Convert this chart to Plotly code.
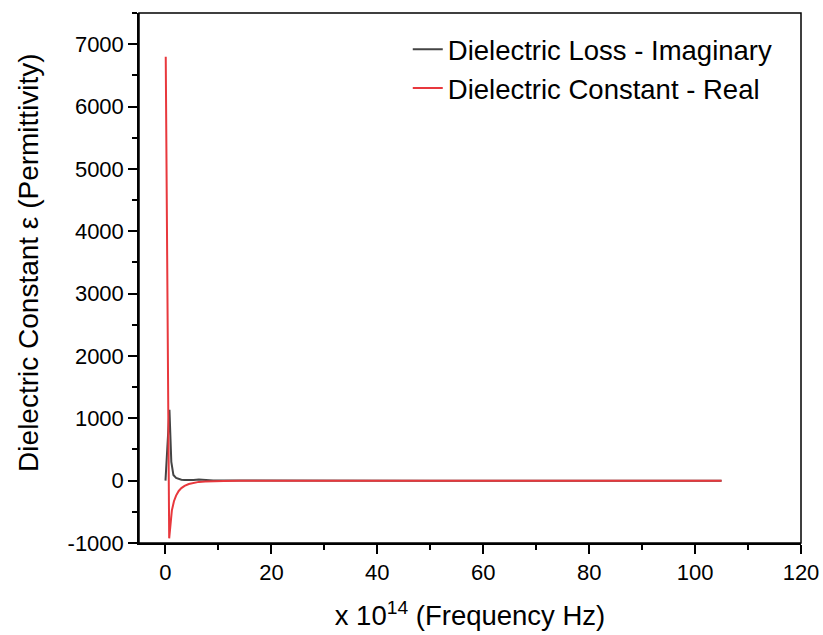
import plotly.graph_objects as go

# Frequency (x 10^14 Hz)
freq_real = [0.05, 0.7, 1.2, 1.6, 2.0, 2.5, 3.0, 3.6, 4.4, 5.3, 6.3, 7.5, 9.0, 11.0, 14.0, 18.0, 25.0, 35.0, 50.0, 65.0, 80.0, 95.0, 105.0]
eps_real = [6800, -925, -480, -330, -240, -165, -120, -85, -55, -35, -20, -12, -7, -4, -2, -1, 0, 0, 0, 0, 0, 0, 0]

freq_imag = [0.0, 0.75, 1.1, 1.5, 2.0, 2.5, 3.0, 3.6, 4.4, 5.3, 6.3, 7.5, 9.0, 11.0, 14.0, 18.0, 25.0, 35.0, 50.0, 65.0, 80.0, 95.0, 105.0]
eps_imag = [0, 1135, 300, 90, 45, 25, 15, 10, 8, 12, 18, 10, 4, 2, 1, 0, 0, 0, 0, 0, 0, 0, 0]

x_ticks = [0, 20, 40, 60, 80, 100, 120]
y_ticks = [-1000, 0, 1000, 2000, 3000, 4000, 5000, 6000, 7000]
y_tick_labels = ["-1000", "0", "1000", "2000", "3000", "4000", "5000", "6000", "7000"]

x_title = "x 10<sup>14</sup> (Frequency Hz)"
y_title = "Dielectric Constant ε (Permittivity)"

font_family = "Liberation Sans, Arial, sans-serif"

fig = go.Figure()
fig.add_trace(go.Scatter(x=freq_imag, y=eps_imag, mode="lines",
                         name="Dielectric Loss - Imaginary",
                         line=dict(color="#444444", width=2)))
fig.add_trace(go.Scatter(x=freq_real, y=eps_real, mode="lines",
                         name="Dielectric Constant - Real",
                         line=dict(color="#e8383d", width=2)))

axis_common = dict(
    showgrid=False, zeroline=False, showline=True, linecolor="black", linewidth=1.5,
    mirror=False, ticks="outside", ticklen=9, tickwidth=1.5, tickcolor="black",
    automargin=False,
    tickfont=dict(family=font_family, size=22, color="black"),
)

fig.update_layout(
    width=823, height=635,
    margin=dict(l=139, r=22, t=13, b=92),
    plot_bgcolor="white", paper_bgcolor="white",
    font=dict(family=font_family, color="black"),
    xaxis=dict(range=[-5, 120], tickmode="array", tickvals=x_ticks,
               minor=dict(ticks="outside", ticklen=5, tickwidth=1.5, tickcolor="black", dtick=10, tick0=0),
               title=dict(text=x_title, font=dict(size=27.5, family=font_family), standoff=22),
               **axis_common),
    yaxis=dict(range=[-1000, 7500], tickmode="array", tickvals=y_ticks, ticktext=y_tick_labels,
               minor=dict(ticks="outside", ticklen=5, tickwidth=1.5, tickcolor="black", dtick=500, tick0=0),
               **axis_common),
    legend=dict(x=0.406, y=0.9775, xanchor="left", yanchor="top",
                bgcolor="rgba(0,0,0,0)", font=dict(size=27.5, family=font_family),
                tracegroupgap=0),
    showlegend=True,
    shapes=[dict(type="rect", xref="paper", yref="paper", x0=0, y0=0, x1=1, y1=1,
                 line=dict(color="black", width=1.5), fillcolor="rgba(0,0,0,0)", layer="above")],
    annotations=[dict(text=y_title, textangle=-90, xref="paper", yref="paper",
                      x=-0.168, y=0.530, xanchor="center", yanchor="middle", showarrow=False,
                      font=dict(size=28, family=font_family, color="black"))],
)

fig.write_html("out.html")
